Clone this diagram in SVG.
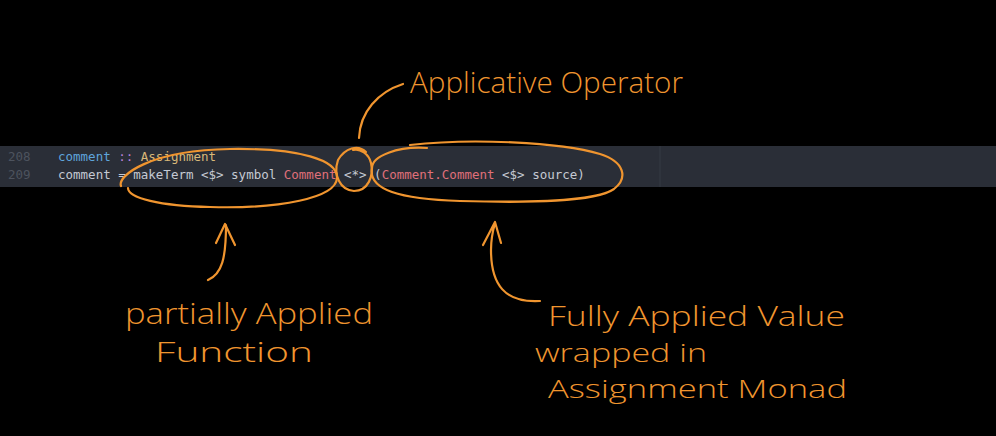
<svg xmlns="http://www.w3.org/2000/svg" width="996" height="436" viewBox="0 0 996 436">
<style>
.code{font-family:"DejaVu Sans Mono","Liberation Mono",monospace;font-size:12.5px;}
.ln{fill:#4d535e;}
.pl{fill:#c5cad3;}
.kw{fill:#5fa5dc;}
.op{fill:#b77fd6;}
.ty{fill:#d8b878;}
.st{fill:#e0707a;}
.hand{font-family:"Open Sans","Noto Sans",sans-serif;font-weight:300;fill:#f0952f;}
.ink{fill:none;stroke:#f0952f;stroke-width:2.2;stroke-linecap:round;stroke-linejoin:round;}
</style>
<rect x="0" y="0" width="996" height="436" fill="#000"/>
<g id="code-band">
<rect x="0" y="146" width="996" height="41" fill="#2a2e37"/>
<line x1="660" y1="146" x2="660" y2="187" stroke="#353a44" stroke-width="1"/>
<text class="code ln" x="8" y="161">208</text>
<text class="code ln" x="8" y="179">209</text>
<text class="code" x="58" y="161" xml:space="preserve"><tspan class="kw">comment</tspan><tspan class="pl"> </tspan><tspan class="op">::</tspan><tspan class="pl"> </tspan><tspan class="ty">Assignment</tspan></text>
<text class="code" x="58" y="179" xml:space="preserve"><tspan class="pl">comment = makeTerm &lt;$&gt; symbol </tspan><tspan class="st">Comment</tspan><tspan class="pl"> &lt;*&gt; (</tspan><tspan class="st">Comment.Comment</tspan><tspan class="pl"> &lt;$&gt; source)</tspan></text>
</g>
<g id="connectors">
<path class="ink" d="M121,186 C117,176 150,150 230,149 C300,148 338,160 337,178 C336,198 280,209 210,207 C160,206 128,198 128,188"/>
<path class="ink" d="M366,152 C358,144 345,148 338,160 C333,175 340,190 354,191 C368,191 374,176 371,163 C369,154 360,148 353,150"/>
<path class="ink" d="M372,168 C372,156 398,146 427,148 M410,145 C470,138 560,142 600,154 C625,162 628,178 614,189 C595,202 530,203 460,201 C400,199 368,190 372,168"/>
<path class="ink" d="M359,138 C360,112 378,92 403,84"/>
<path class="ink" d="M208,280 C222,274 226,258 226,225 M216,243 L225,224 L235,245"/>
<path class="ink" d="M540,301 C505,303 491,285 491,250 C491,238 493,230 495,223 M483,245 L495,222 L501,243"/>
</g>
<g id="label-applicative">
<text class="hand" x="410" y="93" font-size="30" textLength="273" lengthAdjust="spacingAndGlyphs">Applicative Operator</text>
</g>
<g id="label-partial">
<text class="hand" x="125" y="324" font-size="30" textLength="248" lengthAdjust="spacingAndGlyphs">partially Applied</text>
<text class="hand" x="155" y="362" font-size="27" textLength="158" lengthAdjust="spacingAndGlyphs">Function</text>
</g>
<g id="label-full">
<text class="hand" x="548" y="326" font-size="28" textLength="297" lengthAdjust="spacingAndGlyphs">Fully Applied Value</text>
<text class="hand" x="535" y="362" font-size="26" textLength="172" lengthAdjust="spacingAndGlyphs">wrapped in</text>
<text class="hand" x="548" y="398" font-size="26" textLength="299" lengthAdjust="spacingAndGlyphs">Assignment Monad</text>
</g>
</svg>
